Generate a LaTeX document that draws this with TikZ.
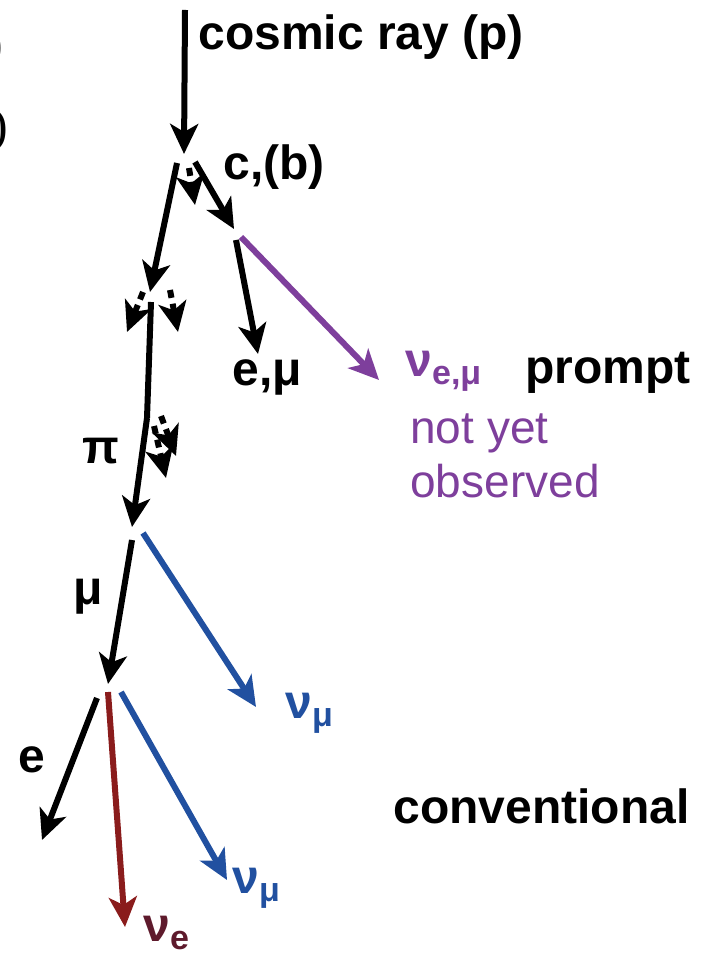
\documentclass[tikz,border=0pt]{standalone}
\usepackage{fontspec}
\setmainfont{Liberation Sans}
\newfontfamily\cutfont{Liberation Serif}
\usetikzlibrary{arrows.meta}
\definecolor{NuBlue}{HTML}{2150A0}
\definecolor{NuRed}{HTML}{8A1C1C}
\definecolor{NuMaroon}{HTML}{5E1A2C}
\definecolor{Prompt}{HTML}{7E3F9C}
\newcommand{\nusub}[1]{ν\raisebox{-4pt}{\fontsize{17}{17}\selectfont #1}}
\tikzset{
  lbl/.style={inner sep=0pt,anchor=base west,font=\fontsize{24}{28}\selectfont\bfseries},
  leg/.style={line width=3pt,-{Stealth[length=15pt,width=14pt,inset=4pt]}},
  virt/.style={leg,dash pattern=on 4pt off 3pt}
}
\begin{document}
\begin{tikzpicture}[x=0.5pt,y=-0.5pt]
  \useasboundingbox (0,0) rectangle (703,956);
  % leg end points
  \foreach \n/\x/\y in {p/185/10,v1/184/154,c0/195/162,c1/234/229,k0/177/163,k1/150/292,
      k2/151/302,k3/147/418,k4/148/422,k5/132/527,k6/132/540,k7/108/684,b0/143/533,b1/256/707,
      e0/97/698,e1/42/840,r0/108/692,r1/125/927,b2/121/692,b3/227/880,m0/236/240,m1/258/354,
      q0/241/237,q1/379/380,d0/189/168,d1/195/205,d2/143/292,d3/127/332,d4/170/290,d5/178/332,
      d6/161/416,d7/176/456,d8/154/426,d9/166/478}
    \coordinate (\n) at (\x,\y);
  \draw[leg] (p) -- (v1);
  \draw[leg] (c0) -- (c1);
  \draw[leg] (k0) -- (k1);
  \draw[line width=3pt] (k2) -- (k3);
  \draw[leg] (k3) -- (k5);
  \draw[leg] (k6) -- (k7);
  \draw[leg] (m0) -- (m1);
  \draw[leg] (e0) -- (e1);
  \draw[leg,Prompt] (q0) -- (q1);
  \draw[leg,NuBlue] (b0) -- (b1);
  \draw[leg,NuBlue] (b2) -- (b3);
  \draw[leg,NuRed] (r0) -- (r1);
  % virtual decays
  \foreach \s/\t in {d0/d1,d2/d3,d4/d5,d6/d7,d8/d9}
    \draw[virt] (\s) -- (\t);
  % labels
  \node[lbl] (cr) at (198,50) {cosmic ray (p)};
  \node[lbl] (cb) at (223,180) {c,(b)};
  \node[lbl] (em) at (232,386) {e,μ};
  \node[lbl] (pi) at (82,463) {π};
  \node[lbl] (mu) at (73,604) {μ};
  \node[lbl] (el) at (18,772) {e};
  \node[lbl,NuBlue] (nm1) at (285,718) {\nusub{μ}};
  \node[lbl,NuBlue] (nm2) at (232,893) {\nusub{μ}};
  \node[lbl,NuMaroon] (ne) at (143,941) {\nusub{e}};
  \node[lbl,Prompt] (nem) at (405,377) {\nusub{e,μ}};
  \node[lbl] (pr) at (525,384) {prompt};
  \node[lbl,Prompt,font=\fontsize{23}{27}\selectfont] (ny1) at (410,443) {not yet};
  \node[lbl,Prompt,font=\fontsize{23}{27}\selectfont] (ny2) at (410,497) {observed};
  \node[lbl] (cv) at (393,823) {conventional};
  % cut-off text at the left edge
  \node[inner sep=0pt,anchor=east,font=\cutfont\fontsize{25}{25}\selectfont] (cut1) at (4,48) {)};
  \node[inner sep=0pt,anchor=east,font=\cutfont\fontsize{25}{25}\selectfont] (cut2) at (9,130) {)};
\end{tikzpicture}
\end{document}
